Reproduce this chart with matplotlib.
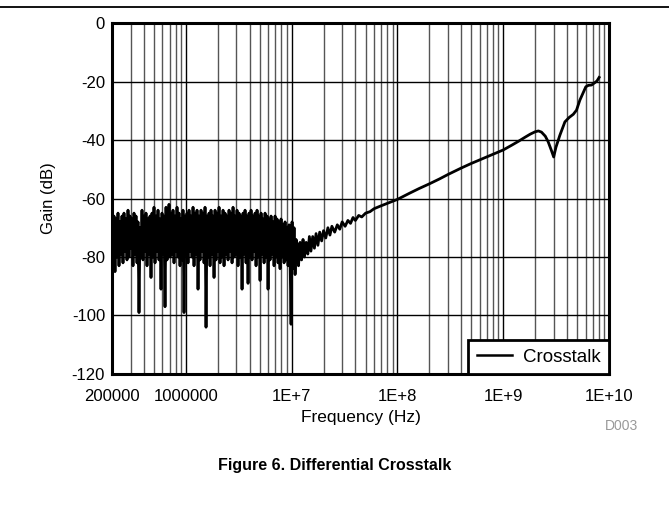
import numpy as np
import matplotlib
matplotlib.use("Agg")
import matplotlib.pyplot as plt
from matplotlib.lines import Line2D

plt.rcParams['font.family'] = ['Liberation Sans', 'DejaVu Sans']
plt.rcParams['axes.unicode_minus'] = False

# Noise floor readings, low-frequency part of the sweep (200 kHz to 11 MHz)
floor_gain = [
    -72, -84, -66, -85, -67, -80, -65, -83, -68, -79,
    -66, -82, -65, -78, -67, -81, -64, -80, -66, -77,
    -67, -83, -65, -79, -66, -82, -68, -99, -70, -80,
    -64, -81, -66, -78, -65, -83, -67, -79, -66, -87,
    -65, -80, -63, -82, -66, -78, -64, -81, -67, -91,
    -65, -79, -66, -97, -63, -81, -78, -62, -80, -65,
    -79, -64, -82, -66, -78, -63, -80, -65, -83, -67,
    -81, -64, -99, -66, -79, -65, -82, -64, -78, -66,
    -80, -63, -83, -65, -79, -64, -91, -66, -81, -64,
    -78, -65, -82, -63, -104, -66, -80, -65, -83, -64,
    -79, -66, -87, -64, -81, -65, -78, -63, -82, -66,
    -80, -64, -83, -65, -79, -66, -81, -64, -78, -65,
    -82, -63, -80, -66, -79, -64, -83, -65, -80, -66,
    -91, -65, -79, -64, -82, -66, -89, -65, -80, -64,
    -81, -66, -78, -65, -83, -64, -80, -66, -88, -65,
    -79, -67, -82, -65, -80, -66, -91, -67, -81, -66,
    -79, -68, -83, -66, -80, -67, -82, -68, -84, -67,
    -80, -69, -82, -68, -81, -70, -83, -69, -80, -103,
    -68, -84, -70, -86, -74,
]
floor_freq = np.geomspace(2e5, 1.1e7, len(floor_gain))

# Rising part of the curve
rise_freq = [1.13e7, 1.16e7, 1.2e7, 1.24e7, 1.28e7, 1.32e7, 1.37e7, 1.42e7,
             1.47e7, 1.52e7, 1.58e7, 1.64e7, 1.7e7, 1.77e7, 1.84e7, 1.92e7,
             2.0e7, 2.1e7, 2.2e7, 2.3e7, 2.4e7, 2.55e7, 2.7e7, 2.85e7,
             3.0e7, 3.2e7, 3.4e7, 3.6e7, 3.8e7, 4.0e7, 4.3e7, 4.6e7,
             5.0e7, 5.5e7, 6.0e7]
rise_gain = [-76, -83, -75, -81, -74, -80, -75, -79,
             -73, -78, -73, -77, -72, -76, -71.5, -74.5,
             -71, -73.5, -70, -72.5, -69.5, -71.5, -69, -70.5,
             -68, -69.5, -67.5, -68.5, -66.5, -67.5, -65.8, -66.3,
             -65, -64.5, -63.5]

# High-frequency part with the resonance near 3 GHz
high_freq = [7e7, 8.5e7, 1e8, 1.3e8, 1.6e8, 2e8, 2.5e8, 3e8, 3.5e8, 4e8,
             5e8, 6e8, 7e8, 8e8, 9e8, 1e9, 1.2e9, 1.4e9, 1.6e9, 1.8e9,
             2.0e9, 2.15e9, 2.3e9, 2.5e9, 2.66e9, 2.85e9, 3.0e9, 3.15e9,
             3.43e9, 3.83e9, 4.2e9, 4.6e9, 4.93e9, 5.3e9, 5.7e9, 6.04e9,
             6.4e9, 6.84e9, 7.34e9, 7.7e9, 8.07e9]
high_gain = [-62.5, -61.3, -60.3, -58.2, -56.6, -55, -53.3, -51.8, -50.6, -49.6,
             -48, -46.8, -45.8, -44.9, -44.1, -43.4, -41.8, -40.4, -39.1, -38,
             -37.2, -36.9, -37.3, -38.7, -40.6, -43.5, -45.8, -42.5,
             -38.4, -33.8, -32.3, -31.2, -29.8, -26.4, -23.8, -21.8,
             -21.3, -21.2, -20.4, -19.8, -18.6]

freq = np.concatenate([floor_freq, rise_freq, high_freq])
gain = np.concatenate([floor_gain, rise_gain, high_gain])

xticks = [2e5, 1e6, 1e7, 1e8, 1e9, 1e10]
xtick_labels = ["200000", "1000000", "1E+7", "1E+8", "1E+9", "1E+10"]
yticks = [0, -20, -40, -60, -80, -100, -120]

fig = plt.figure(figsize=(6.69, 5.08), dpi=100)
ax = fig.add_axes([0.1674, 0.2638, 0.7429, 0.6909])

ax.plot(freq, gain, color="black", lw=2.0, label="Crosstalk", zorder=3)

ax.set_xscale("log")
ax.set_xlim(2e5, 1e10)
ax.set_ylim(-120, 0)
ax.set_xticks(xticks)
ax.set_xticklabels(xtick_labels)
ax.set_yticks(yticks)
ax.xaxis.set_minor_formatter(plt.NullFormatter())

ax.grid(which="major", axis="both", color="black", lw=1.0)
ax.grid(which="minor", axis="x", color="#555555", lw=1.0)
ax.tick_params(which="both", length=0, labelsize=12, colors="black")
ax.tick_params(axis="x", pad=11)
ax.tick_params(axis="y", pad=5)
for s in ax.spines.values():
    s.set_linewidth(2.2)
    s.set_color("black")

ax.set_xlabel("Frequency (Hz)", fontsize=12.5, labelpad=4)
ax.set_ylabel("Gain (dB)", fontsize=12, labelpad=11)

leg = ax.legend(loc="lower right", borderaxespad=0, fontsize=13.5,
                fancybox=False, framealpha=1, edgecolor="black",
                handlelength=1.9, borderpad=0.45, handletextpad=0.55)
leg.get_frame().set_linewidth(2)
for h in leg.get_lines():
    h.set_linewidth(1.8)

fig.text(0.9297, 0.1614, "D003", fontsize=10, color="#999999", ha="center", va="center")
fig.text(0.5, 0.083, "Figure 6. Differential Crosstalk", fontsize=11.5,
         fontweight="bold", ha="center", va="center")
fig.add_artist(Line2D([0, 1], [0.987, 0.987], color="black", lw=1.3))

fig.savefig("out.png", dpi=100)
